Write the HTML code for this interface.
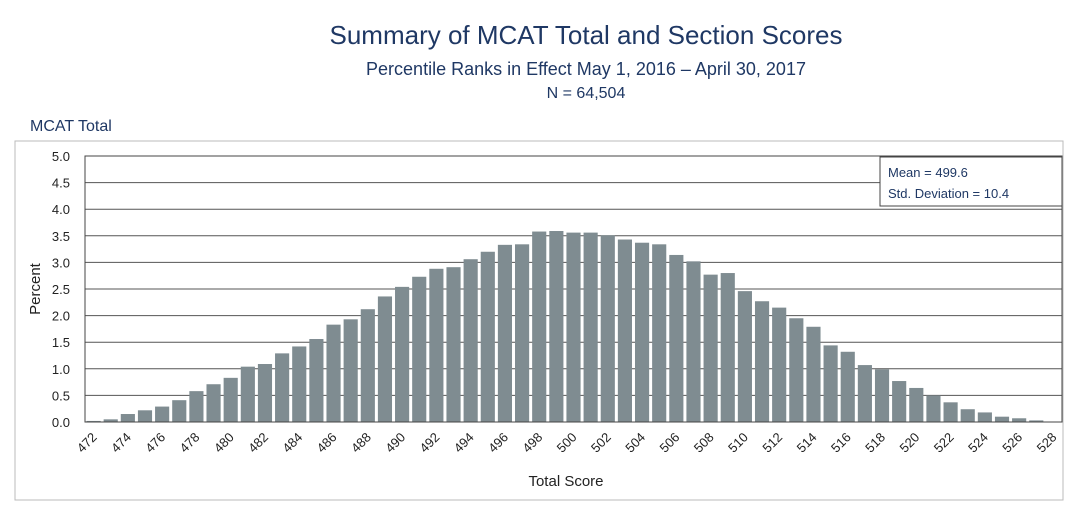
<!DOCTYPE html>
<html><head><meta charset="utf-8"><style>
body{margin:0;background:#fff;width:1080px;height:507px;overflow:hidden;font-family:"Liberation Sans","Noto Sans CJK SC",sans-serif}
</style></head><body>
<svg id="c" width="1080" height="507" style="position:absolute;left:0;top:0">
<text x="586" y="44" text-anchor="middle" font-size="26" fill="#1f3864">Summary of MCAT Total and Section Scores</text>
<text x="586" y="75" text-anchor="middle" font-size="18" fill="#1f3864">Percentile Ranks in Effect May 1, 2016 – April 30, 2017</text>
<text x="586" y="98" text-anchor="middle" font-size="16" fill="#1f3864">N = 64,504</text>
<text x="30" y="131" font-size="16" fill="#1f3864">MCAT Total</text>
<rect x="15" y="141" width="1048" height="359" fill="none" stroke="#bbb"/>
<g id="grid"></g><g id="bars"></g><g id="xl"></g>
<rect x="85" y="156" width="977" height="266" fill="none" stroke="#444"/>
<rect x="880" y="157" width="182" height="49" fill="#fff" stroke="#444"/>
<text x="888" y="177" font-size="13" fill="#1f3864">Mean = 499.6</text>
<text x="888" y="198" font-size="13" fill="#1f3864">Std. Deviation = 10.4</text>
<text transform="translate(40,289) rotate(-90)" text-anchor="middle" font-size="15" fill="#222">Percent</text>
<text x="566" y="486" text-anchor="middle" font-size="15" fill="#222">Total Score</text>
</svg>
<script>
const categories=[];for(let s=472;s<=528;s++)categories.push(s);
const values=[0.02,0.05,0.15,0.22,0.29,0.41,0.58,0.71,0.83,1.04,1.09,1.29,1.42,1.56,1.83,1.93,2.12,2.36,2.54,2.73,2.88,2.91,3.06,3.20,3.33,3.34,3.58,3.59,3.56,3.56,3.51,3.43,3.37,3.34,3.14,3.02,2.77,2.80,2.46,2.27,2.15,1.95,1.79,1.44,1.32,1.07,0.99,0.77,0.64,0.50,0.37,0.24,0.18,0.10,0.07,0.03,0];
const yTicks=[0,0.5,1,1.5,2,2.5,3,3.5,4,4.5,5];
const NS="http://www.w3.org/2000/svg";
const L=85,R=1062,T=156,B=422,bw=(R-L)/categories.length;
const y=v=>B-(v/5)*(B-T);const x=i=>L+i*bw;
function mk(t,a,p){const e=document.createElementNS(NS,t);for(const k in a)e.setAttribute(k,a[k]);p.appendChild(e);return e;}
const g=document.getElementById('grid');
yTicks.forEach(v=>{
 const l=mk('line',{x1:L,x2:R,y1:y(v),y2:y(v),stroke:'#555','stroke-width':1},g);
 
 
 const t=mk('text',{x:70,y:y(v)+5,'text-anchor':'end','font-size':13,fill:'#222'},g);
 t.textContent=v.toFixed(1);
 
 
});
const bg=document.getElementById('bars');
values.forEach((v,i)=>{
 const r=mk('rect',{x:x(i)+1.5,y:y(v),width:bw-3,height:B-y(v),fill:'#7f8c91'},bg);
 
 
});
const xg=document.getElementById('xl');
categories.forEach((c,i)=>{if(c%2)return;
 const cx=x(i)+bw/2+4,cy=438;
 const t=mk('text',{x:cx,y:cy,'text-anchor':'end','font-size':13,fill:'#222',transform:`rotate(-45 ${cx} ${cy})`},xg);
 t.textContent=c;
 
 
});
</script>
</body></html>
